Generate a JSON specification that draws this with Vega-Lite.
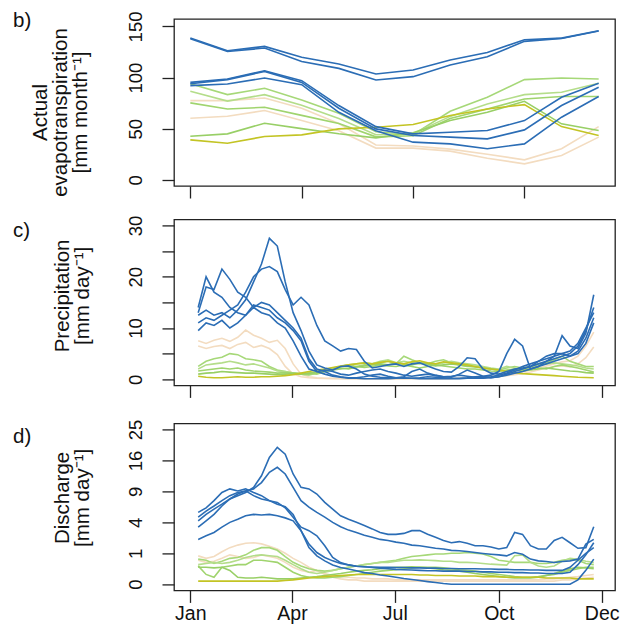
{
"$schema": "https://vega.github.io/schema/vega-lite/v6.json",
"padding": {"left": 12, "top": 10, "right": 12, "bottom": 4},
"background": "white",
"config": {
  "font": "Liberation Sans",
  "view": {"stroke": "#222", "strokeWidth": 1.3},
  "axis": {"grid": false, "domain": false, "tickSize": 12, "tickColor": "#222", "tickWidth": 1.3, "labelFontSize": 18.5, "labelColor": "#111", "titleFontSize": 20.5, "titleFontWeight": "normal", "titleColor": "#111", "titleLineHeight": 20},
  "title": {"fontSize": 20.5, "fontWeight": "normal", "anchor": "start", "frame": "group", "color": "#111", "baseline": "alphabetic", "offset": 0}
},
"datasets": {
"et": [
{"m":1,"s01":77.4,"s02":60.2,"s03":94,"s04":86.6,"s05":75.2,"s06":42.6,"s07":39,"s08":138.6,"s09":138,"s10":95.3,"s11":94,"s12":92.1},
{"m":2,"s01":77.4,"s02":62.2,"s03":83.3,"s04":77,"s05":69.3,"s06":44.9,"s07":35.8,"s08":126.3,"s09":125.5,"s10":98.6,"s11":98,"s12":93.7},
{"m":3,"s01":80,"s02":67.7,"s03":89.5,"s04":83.3,"s05":70.9,"s06":55.3,"s07":42.3,"s08":130.5,"s09":128.9,"s10":106.7,"s11":106,"s12":99.6},
{"m":4,"s01":70,"s02":58,"s03":78,"s04":73,"s05":63,"s06":50,"s07":43.9,"s08":119.8,"s09":115.8,"s10":97,"s11":95.3,"s12":93},
{"m":5,"s01":55,"s02":48,"s03":65,"s04":60,"s05":55,"s06":45,"s07":49.8,"s08":113.2,"s09":109,"s10":72.6,"s11":70,"s12":66},
{"m":6,"s01":34,"s02":31,"s03":47,"s04":44,"s05":42,"s06":41,"s07":51.4,"s08":103.5,"s09":97.6,"s10":52,"s11":49.8,"s12":48},
{"m":7,"s01":33,"s02":31,"s03":44,"s04":45,"s05":43,"s06":46,"s07":54,"s08":107.4,"s09":100.9,"s10":44.9,"s11":43.3,"s12":36.8},
{"m":8,"s01":30,"s02":28,"s03":67,"s04":62,"s05":60,"s06":58,"s07":62.8,"s08":117.1,"s09":112.3,"s10":46.5,"s11":41.7,"s12":35.1},
{"m":9,"s01":25,"s02":21,"s03":80.7,"s04":74.2,"s05":69.3,"s06":66,"s07":69.3,"s08":124.6,"s09":120.4,"s10":48.2,"s11":40,"s12":30.3},
{"m":10,"s01":19.5,"s02":15.6,"s03":98,"s04":83.3,"s05":79,"s06":76.8,"s07":73.5,"s08":137,"s09":135.4,"s10":57.9,"s11":48.8,"s12":35.1},
{"m":11,"s01":30.3,"s02":23.8,"s03":99.6,"s04":85.6,"s05":81.4,"s06":54.7,"s07":52,"s08":138.6,"s09":138.3,"s10":80.7,"s11":72.6,"s12":61.2},
{"m":12,"s01":52,"s02":41.7,"s03":98.6,"s04":94.4,"s05":81.4,"s06":48.2,"s07":43.3,"s08":145.8,"s09":145.5,"s10":94.4,"s11":90.5,"s12":81.4}
],
"pr": [
{"d":8,"s01":7.5,"s02":6.5,"s03":2.5,"s04":2.0,"s05":1.6,"s06":1.0,"s07":0.6,"s08":12.5,"s09":11.0,"s10":13.0,"s11":14.0,"s12":9.5},
{"d":15,"s01":7.0,"s02":6.0,"s03":3.5,"s04":2.8,"s05":1.8,"s06":1.2,"s07":0.4,"s08":13.5,"s09":12.0,"s10":18.0,"s11":20.0,"s12":11.0},
{"d":22,"s01":7.6,"s02":6.4,"s03":4.0,"s04":3.0,"s05":2.0,"s06":1.3,"s07":0.3,"s08":12.5,"s09":11.5,"s10":17.5,"s11":17.0,"s12":10.5},
{"d":29,"s01":8.0,"s02":6.6,"s03":4.3,"s04":3.2,"s05":2.2,"s06":1.5,"s07":0.3,"s08":13.0,"s09":12.5,"s10":21.5,"s11":16.0,"s12":11.5},
{"d":36,"s01":7.4,"s02":6.0,"s03":5.0,"s04":3.5,"s05":2.0,"s06":1.4,"s07":0.4,"s08":12.0,"s09":13.5,"s10":19.5,"s11":14.0,"s12":10.0},
{"d":43,"s01":8.2,"s02":6.8,"s03":4.8,"s04":3.2,"s05":2.2,"s06":1.3,"s07":0.5,"s08":13.5,"s09":14.5,"s10":17.0,"s11":13.0,"s12":11.0},
{"d":50,"s01":9.6,"s02":7.2,"s03":4.0,"s04":2.8,"s05":1.8,"s06":1.2,"s07":0.4,"s08":15.5,"s09":17.0,"s10":16.0,"s11":12.5,"s12":12.5},
{"d":57,"s01":8.6,"s02":6.2,"s03":3.8,"s04":3.0,"s05":1.6,"s06":1.2,"s07":0.4,"s08":19.0,"s09":20.0,"s10":14.0,"s11":14.5,"s12":14.0},
{"d":64,"s01":8.0,"s02":6.6,"s03":3.5,"s04":2.6,"s05":1.5,"s06":1.1,"s07":0.5,"s08":22.5,"s09":21.5,"s10":15.0,"s11":14.0,"s12":13.0},
{"d":71,"s01":7.2,"s02":6.0,"s03":2.5,"s04":2.2,"s05":1.4,"s06":1.0,"s07":0.5,"s08":27.5,"s09":22.0,"s10":14.5,"s11":13.5,"s12":12.5},
{"d":78,"s01":7.6,"s02":4.8,"s03":1.8,"s04":1.6,"s05":1.2,"s06":0.9,"s07":0.6,"s08":26.0,"s09":21.0,"s10":13.0,"s11":12.0,"s12":11.0},
{"d":85,"s01":6.0,"s02":2.5,"s03":1.5,"s04":1.5,"s05":1.3,"s06":1.0,"s07":0.7,"s08":19.0,"s09":17.5,"s10":11.5,"s11":11.0,"s12":10.0},
{"d":92,"s01":3.0,"s02":1.0,"s03":1.2,"s04":1.2,"s05":1.2,"s06":1.1,"s07":0.9,"s08":13.0,"s09":14.5,"s10":10.0,"s11":9.5,"s12":7.5},
{"d":99,"s01":1.0,"s02":0.5,"s03":1.0,"s04":1.0,"s05":1.1,"s06":1.0,"s07":1.2,"s08":9.5,"s09":16.0,"s10":8.0,"s11":7.5,"s12":4.5},
{"d":106,"s01":0.5,"s02":0.3,"s03":1.2,"s04":0.8,"s05":1.0,"s06":1.2,"s07":1.5,"s08":5.5,"s09":14.5,"s10":4.0,"s11":3.5,"s12":2.0},
{"d":113,"s01":0.3,"s02":0.2,"s03":1.0,"s04":1.2,"s05":1.2,"s06":1.4,"s07":1.8,"s08":2.8,"s09":10.5,"s10":2.0,"s11":1.5,"s12":1.5},
{"d":120,"s01":0.2,"s02":0.15,"s03":1.5,"s04":1.8,"s05":1.5,"s06":1.6,"s07":2.0,"s08":2.2,"s09":7.5,"s10":1.5,"s11":1.8,"s12":1.0},
{"d":127,"s01":0.2,"s02":0.1,"s03":2.0,"s04":2.2,"s05":1.8,"s06":2.0,"s07":2.3,"s08":1.8,"s09":6.5,"s10":0.8,"s11":1.5,"s12":0.6},
{"d":134,"s01":0.15,"s02":0.1,"s03":2.5,"s04":2.5,"s05":2.0,"s06":2.2,"s07":2.6,"s08":2.5,"s09":5.5,"s10":0.5,"s11":1.0,"s12":0.4},
{"d":141,"s01":0.1,"s02":0.1,"s03":2.8,"s04":2.8,"s05":2.2,"s06":2.0,"s07":2.8,"s08":2.6,"s09":6.0,"s10":0.3,"s11":0.8,"s12":0.2},
{"d":148,"s01":0.1,"s02":0.1,"s03":2.5,"s04":3.0,"s05":2.5,"s06":2.4,"s07":3.0,"s08":2.0,"s09":5.8,"s10":0.3,"s11":1.2,"s12":0.2},
{"d":155,"s01":0.1,"s02":0.1,"s03":2.8,"s04":3.2,"s05":2.3,"s06":2.6,"s07":3.2,"s08":1.0,"s09":3.5,"s10":0.5,"s11":1.5,"s12":0.1},
{"d":162,"s01":0.15,"s02":0.1,"s03":3.0,"s04":3.0,"s05":2.5,"s06":2.8,"s07":3.0,"s08":0.6,"s09":2.2,"s10":0.8,"s11":1.8,"s12":0.1},
{"d":169,"s01":0.1,"s02":0.1,"s03":3.2,"s04":3.5,"s05":2.8,"s06":3.0,"s07":3.3,"s08":0.4,"s09":2.5,"s10":1.0,"s11":2.0,"s12":0.1},
{"d":176,"s01":0.1,"s02":0.1,"s03":3.5,"s04":3.8,"s05":2.6,"s06":2.8,"s07":3.5,"s08":0.3,"s09":2.8,"s10":0.6,"s11":1.5,"s12":0.1},
{"d":183,"s01":0.1,"s02":0.1,"s03":3.0,"s04":3.2,"s05":2.5,"s06":3.2,"s07":3.2,"s08":0.3,"s09":3.0,"s10":0.3,"s11":1.2,"s12":0.2},
{"d":190,"s01":0.1,"s02":0.1,"s03":4.5,"s04":3.5,"s05":2.8,"s06":3.0,"s07":3.0,"s08":0.5,"s09":2.5,"s10":0.2,"s11":0.8,"s12":0.3},
{"d":197,"s01":0.15,"s02":0.1,"s03":3.8,"s04":3.2,"s05":2.5,"s06":2.8,"s07":3.4,"s08":1.5,"s09":3.0,"s10":0.2,"s11":0.6,"s12":0.2},
{"d":204,"s01":0.2,"s02":0.1,"s03":3.2,"s04":3.0,"s05":2.2,"s06":3.2,"s07":3.6,"s08":2.0,"s09":3.2,"s10":0.3,"s11":0.8,"s12":0.1},
{"d":211,"s01":0.1,"s02":0.1,"s03":3.0,"s04":3.2,"s05":2.5,"s06":3.0,"s07":3.2,"s08":1.2,"s09":2.6,"s10":0.5,"s11":1.0,"s12":0.1},
{"d":218,"s01":0.1,"s02":0.1,"s03":3.5,"s04":2.8,"s05":2.8,"s06":2.6,"s07":3.0,"s08":0.8,"s09":2.0,"s10":0.4,"s11":0.7,"s12":0.1},
{"d":225,"s01":0.1,"s02":0.1,"s03":3.8,"s04":3.2,"s05":2.6,"s06":2.8,"s07":3.4,"s08":0.5,"s09":1.5,"s10":0.3,"s11":0.5,"s12":0.1},
{"d":232,"s01":0.15,"s02":0.1,"s03":3.2,"s04":3.5,"s05":2.4,"s06":3.0,"s07":3.2,"s08":0.4,"s09":1.4,"s10":0.2,"s11":0.6,"s12":0.1},
{"d":239,"s01":0.2,"s02":0.15,"s03":2.8,"s04":3.2,"s05":2.2,"s06":2.8,"s07":3.0,"s08":1.0,"s09":2.5,"s10":0.2,"s11":0.8,"s12":0.1},
{"d":246,"s01":0.2,"s02":0.2,"s03":2.5,"s04":3.0,"s05":2.0,"s06":2.6,"s07":2.8,"s08":1.8,"s09":4.2,"s10":0.3,"s11":0.6,"s12":0.2},
{"d":253,"s01":0.3,"s02":0.2,"s03":2.5,"s04":2.8,"s05":2.0,"s06":2.4,"s07":2.5,"s08":1.2,"s09":4.0,"s10":0.5,"s11":0.4,"s12":0.2},
{"d":260,"s01":0.4,"s02":0.3,"s03":2.2,"s04":2.5,"s05":1.8,"s06":2.2,"s07":2.2,"s08":0.6,"s09":2.0,"s10":0.6,"s11":0.3,"s12":0.2},
{"d":267,"s01":0.5,"s02":0.4,"s03":2.0,"s04":2.2,"s05":1.6,"s06":2.0,"s07":2.0,"s08":0.3,"s09":1.2,"s10":0.8,"s11":0.5,"s12":0.3},
{"d":274,"s01":0.8,"s02":0.5,"s03":1.8,"s04":2.0,"s05":1.5,"s06":1.8,"s07":1.8,"s08":0.5,"s09":1.0,"s10":1.5,"s11":0.8,"s12":0.5},
{"d":281,"s01":1.0,"s02":0.7,"s03":2.2,"s04":2.5,"s05":1.8,"s06":1.6,"s07":1.5,"s08":1.0,"s09":1.5,"s10":5.0,"s11":1.2,"s12":0.8},
{"d":288,"s01":1.2,"s02":0.9,"s03":2.5,"s04":2.2,"s05":2.0,"s06":1.8,"s07":1.3,"s08":1.5,"s09":2.0,"s10":7.8,"s11":1.8,"s12":1.2},
{"d":295,"s01":1.5,"s02":1.1,"s03":2.2,"s04":2.0,"s05":1.8,"s06":1.6,"s07":1.1,"s08":2.0,"s09":2.2,"s10":6.5,"s11":2.5,"s12":1.5},
{"d":302,"s01":1.8,"s02":1.4,"s03":2.5,"s04":2.2,"s05":2.0,"s06":1.8,"s07":1.0,"s08":2.5,"s09":2.5,"s10":2.0,"s11":3.0,"s12":2.0},
{"d":309,"s01":2.2,"s02":1.8,"s03":3.0,"s04":2.8,"s05":2.2,"s06":2.0,"s07":0.9,"s08":3.0,"s09":3.5,"s10":2.5,"s11":3.5,"s12":2.5},
{"d":316,"s01":2.6,"s02":2.2,"s03":3.2,"s04":3.0,"s05":2.0,"s06":2.2,"s07":0.8,"s08":3.5,"s09":4.5,"s10":3.5,"s11":4.0,"s12":3.0},
{"d":323,"s01":3.0,"s02":2.5,"s03":3.8,"s04":3.2,"s05":2.5,"s06":2.0,"s07":0.7,"s08":4.0,"s09":5.0,"s10":4.5,"s11":4.5,"s12":3.5},
{"d":330,"s01":3.4,"s02":2.6,"s03":4.5,"s04":3.0,"s05":2.8,"s06":1.8,"s07":0.6,"s08":4.5,"s09":5.0,"s10":8.5,"s11":5.0,"s12":4.0},
{"d":337,"s01":3.6,"s02":2.4,"s03":3.5,"s04":2.8,"s05":2.5,"s06":1.6,"s07":0.5,"s08":5.0,"s09":5.5,"s10":6.5,"s11":4.5,"s12":4.5},
{"d":344,"s01":4.5,"s02":3.0,"s03":3.0,"s04":2.6,"s05":2.2,"s06":1.5,"s07":0.4,"s08":6.5,"s09":7.0,"s10":6.0,"s11":5.5,"s12":5.0},
{"d":351,"s01":6.5,"s02":4.2,"s03":2.5,"s04":2.2,"s05":1.8,"s06":1.3,"s07":0.35,"s08":9.5,"s09":10.0,"s10":9.0,"s11":8.0,"s12":7.0},
{"d":358,"s01":9.2,"s02":6.3,"s03":2.5,"s04":2.0,"s05":1.4,"s06":1.2,"s07":0.3,"s08":14.0,"s09":13.0,"s10":16.5,"s11":12.0,"s12":11.0}
],
"q": [
{"d":8,"s01":0.84,"s02":0.6,"s03":0.66,"s04":0.4,"s05":0.35,"s06":0.3,"s07":0.01,"s08":4.2,"s09":4.7,"s10":5.4,"s11":3.4,"s12":2.1},
{"d":15,"s01":0.7,"s02":0.5,"s03":0.6,"s04":0.45,"s05":0.1,"s06":0.3,"s07":0.01,"s08":5.1,"s09":5.6,"s10":6.1,"s11":4.2,"s12":2.45},
{"d":22,"s01":0.8,"s02":0.55,"s03":0.45,"s04":0.5,"s05":0.05,"s06":0.28,"s07":0.01,"s08":5.9,"s09":6.4,"s10":7.3,"s11":5.1,"s12":2.8},
{"d":29,"s01":1.1,"s02":0.7,"s03":0.55,"s04":0.45,"s05":0.3,"s06":0.3,"s07":0.01,"s08":6.7,"s09":7.3,"s10":8.8,"s11":6.4,"s12":3.4},
{"d":36,"s01":1.4,"s02":0.9,"s03":0.7,"s04":0.5,"s05":0.35,"s06":0.2,"s07":0.01,"s08":7.6,"s09":8.2,"s10":9.5,"s11":7.6,"s12":4.0},
{"d":43,"s01":1.6,"s02":0.8,"s03":0.75,"s04":0.6,"s05":0.4,"s06":0.05,"s07":0.01,"s08":8.2,"s09":8.8,"s10":9.1,"s11":8.5,"s12":4.4},
{"d":50,"s01":1.75,"s02":0.7,"s03":0.9,"s04":0.75,"s05":0.4,"s06":0.04,"s07":0.01,"s08":8.8,"s09":9.1,"s10":9.5,"s11":9.1,"s12":4.9},
{"d":57,"s01":1.8,"s02":0.75,"s03":1.2,"s04":0.85,"s05":0.6,"s06":0.04,"s07":0.01,"s08":9.8,"s09":9.5,"s10":8.8,"s11":8.2,"s12":5.1},
{"d":64,"s01":1.7,"s02":0.9,"s03":1.4,"s04":0.9,"s05":0.6,"s06":0.05,"s07":0.01,"s08":12.3,"s09":10.8,"s10":8.2,"s11":7.6,"s12":5.0},
{"d":71,"s01":1.5,"s02":0.8,"s03":1.4,"s04":0.85,"s05":0.55,"s06":0.04,"s07":0.01,"s08":16.8,"s09":13.1,"s10":7.3,"s11":7.3,"s12":5.1},
{"d":78,"s01":1.3,"s02":0.7,"s03":1.2,"s04":0.8,"s05":0.5,"s06":0.03,"s07":0.01,"s08":19.6,"s09":14.3,"s10":6.7,"s11":7.0,"s12":4.9},
{"d":85,"s01":1.0,"s02":0.5,"s03":0.8,"s04":0.6,"s05":0.3,"s06":0.03,"s07":0.015,"s08":17.7,"s09":12.7,"s10":6.3,"s11":6.1,"s12":4.6},
{"d":92,"s01":0.7,"s02":0.3,"s03":0.5,"s04":0.4,"s05":0.15,"s06":0.03,"s07":0.02,"s08":12.7,"s09":9.8,"s10":5.1,"s11":4.7,"s12":4.2},
{"d":99,"s01":0.5,"s02":0.2,"s03":0.35,"s04":0.25,"s05":0.08,"s06":0.04,"s07":0.03,"s08":9.8,"s09":7.3,"s10":3.0,"s11":3.4,"s12":3.0},
{"d":106,"s01":0.3,"s02":0.15,"s03":0.25,"s04":0.15,"s05":0.05,"s06":0.05,"s07":0.04,"s08":9.5,"s09":6.2,"s10":1.4,"s11":3.0,"s12":1.68},
{"d":113,"s01":0.2,"s02":0.2,"s03":0.2,"s04":0.12,"s05":0.04,"s06":0.06,"s07":0.05,"s08":8.5,"s09":5.4,"s10":0.84,"s11":2.45,"s12":1.05},
{"d":120,"s01":0.12,"s02":0.1,"s03":0.18,"s04":0.15,"s05":0.04,"s06":0.08,"s07":0.06,"s08":7.0,"s09":4.7,"s10":0.57,"s11":1.55,"s12":0.75},
{"d":127,"s01":0.08,"s02":0.05,"s03":0.2,"s04":0.2,"s05":0.05,"s06":0.1,"s07":0.07,"s08":5.9,"s09":4.0,"s10":0.39,"s11":0.75,"s12":0.57},
{"d":134,"s01":0.06,"s02":0.03,"s03":0.25,"s04":0.25,"s05":0.06,"s06":0.12,"s07":0.08,"s08":4.9,"s09":3.45,"s10":0.29,"s11":0.49,"s12":0.45},
{"d":141,"s01":0.05,"s02":0.02,"s03":0.3,"s04":0.3,"s05":0.08,"s06":0.15,"s07":0.09,"s08":4.4,"s09":3.06,"s10":0.24,"s11":0.39,"s12":0.39},
{"d":148,"s01":0.04,"s02":0.02,"s03":0.35,"s04":0.35,"s05":0.1,"s06":0.18,"s07":0.1,"s08":4.0,"s09":2.8,"s10":0.19,"s11":0.34,"s12":0.34},
{"d":155,"s01":0.04,"s02":0.01,"s03":0.4,"s04":0.4,"s05":0.12,"s06":0.2,"s07":0.1,"s08":3.6,"s09":2.5,"s10":0.14,"s11":0.32,"s12":0.32},
{"d":162,"s01":0.03,"s02":0.01,"s03":0.45,"s04":0.45,"s05":0.15,"s06":0.22,"s07":0.1,"s08":3.2,"s09":2.3,"s10":0.12,"s11":0.29,"s12":0.31},
{"d":169,"s01":0.03,"s02":0.01,"s03":0.5,"s04":0.5,"s05":0.18,"s06":0.25,"s07":0.1,"s08":2.8,"s09":2.1,"s10":0.09,"s11":0.27,"s12":0.3},
{"d":176,"s01":0.03,"s02":0.01,"s03":0.55,"s04":0.5,"s05":0.2,"s06":0.28,"s07":0.1,"s08":2.6,"s09":2.0,"s10":0.07,"s11":0.25,"s12":0.3},
{"d":183,"s01":0.02,"s02":0.01,"s03":0.6,"s04":0.55,"s05":0.22,"s06":0.3,"s07":0.1,"s08":2.6,"s09":1.85,"s10":0.05,"s11":0.23,"s12":0.29},
{"d":190,"s01":0.02,"s02":0.01,"s03":0.7,"s04":0.6,"s05":0.25,"s06":0.3,"s07":0.1,"s08":2.7,"s09":1.75,"s10":0.034,"s11":0.22,"s12":0.29},
{"d":197,"s01":0.02,"s02":0.01,"s03":0.8,"s04":0.6,"s05":0.28,"s06":0.32,"s07":0.1,"s08":3.0,"s09":1.6,"s10":0.023,"s11":0.21,"s12":0.28},
{"d":204,"s01":0.02,"s02":0.01,"s03":0.85,"s04":0.62,"s05":0.3,"s06":0.3,"s07":0.09,"s08":3.0,"s09":1.55,"s10":0.014,"s11":0.2,"s12":0.28},
{"d":211,"s01":0.02,"s02":0.01,"s03":0.9,"s04":0.6,"s05":0.3,"s06":0.28,"s07":0.09,"s08":2.6,"s09":1.45,"s10":0.007,"s11":0.19,"s12":0.27},
{"d":218,"s01":0.02,"s02":0.01,"s03":0.95,"s04":0.58,"s05":0.3,"s06":0.25,"s07":0.08,"s08":2.3,"s09":1.35,"s10":0.003,"s11":0.19,"s12":0.27},
{"d":225,"s01":0.02,"s02":0.01,"s03":0.95,"s04":0.55,"s05":0.28,"s06":0.22,"s07":0.08,"s08":2.0,"s09":1.3,"s10":0.0005,"s11":0.18,"s12":0.26},
{"d":232,"s01":0.02,"s02":0.01,"s03":1.0,"s04":0.55,"s05":0.25,"s06":0.2,"s07":0.08,"s08":1.8,"s09":1.2,"s10":0,"s11":0.18,"s12":0.26},
{"d":239,"s01":0.02,"s02":0.01,"s03":1.0,"s04":0.5,"s05":0.22,"s06":0.18,"s07":0.07,"s08":1.9,"s09":1.17,"s10":0,"s11":0.18,"s12":0.25},
{"d":246,"s01":0.02,"s02":0.01,"s03":1.05,"s04":0.5,"s05":0.2,"s06":0.15,"s07":0.07,"s08":1.75,"s09":1.12,"s10":0,"s11":0.17,"s12":0.25},
{"d":253,"s01":0.02,"s02":0.01,"s03":1.0,"s04":0.48,"s05":0.18,"s06":0.12,"s07":0.07,"s08":1.55,"s09":1.05,"s10":0,"s11":0.17,"s12":0.25},
{"d":260,"s01":0.02,"s02":0.01,"s03":0.95,"s04":0.45,"s05":0.15,"s06":0.1,"s07":0.06,"s08":1.55,"s09":0.99,"s10":0,"s11":0.16,"s12":0.24},
{"d":267,"s01":0.02,"s02":0.01,"s03":0.8,"s04":0.42,"s05":0.12,"s06":0.08,"s07":0.06,"s08":1.45,"s09":0.94,"s10":0,"s11":0.16,"s12":0.24},
{"d":274,"s01":0.02,"s02":0.01,"s03":0.6,"s04":0.4,"s05":0.1,"s06":0.06,"s07":0.06,"s08":1.3,"s09":0.9,"s10":0,"s11":0.15,"s12":0.23},
{"d":281,"s01":0.02,"s02":0.01,"s03":0.55,"s04":0.38,"s05":0.08,"s06":0.05,"s07":0.05,"s08":1.4,"s09":0.84,"s10":0,"s11":0.15,"s12":0.23},
{"d":288,"s01":0.02,"s02":0.01,"s03":0.5,"s04":0.85,"s05":0.06,"s06":0.04,"s07":0.05,"s08":2.8,"s09":1.05,"s10":0,"s11":0.14,"s12":0.22},
{"d":295,"s01":0.02,"s02":0.01,"s03":0.5,"s04":0.9,"s05":0.05,"s06":0.04,"s07":0.05,"s08":2.6,"s09":0.94,"s10":0,"s11":0.14,"s12":0.22},
{"d":302,"s01":0.02,"s02":0.01,"s03":0.5,"s04":0.5,"s05":0.05,"s06":0.04,"s07":0.05,"s08":1.55,"s09":0.66,"s10":0,"s11":0.13,"s12":0.21},
{"d":309,"s01":0.02,"s02":0.01,"s03":0.45,"s04":0.35,"s05":0.06,"s06":0.05,"s07":0.05,"s08":1.3,"s09":0.57,"s10":0,"s11":0.13,"s12":0.21},
{"d":316,"s01":0.03,"s02":0.01,"s03":0.45,"s04":0.3,"s05":0.08,"s06":0.08,"s07":0.04,"s08":1.3,"s09":0.54,"s10":0,"s11":0.12,"s12":0.2},
{"d":323,"s01":0.03,"s02":0.01,"s03":0.5,"s04":0.35,"s05":0.1,"s06":0.12,"s07":0.04,"s08":2.0,"s09":0.49,"s10":0,"s11":0.12,"s12":0.2},
{"d":330,"s01":0.04,"s02":0.02,"s03":0.6,"s04":0.55,"s05":0.15,"s06":0.18,"s07":0.04,"s08":2.3,"s09":0.54,"s10":0,"s11":0.12,"s12":0.2},
{"d":337,"s01":0.05,"s02":0.02,"s03":0.65,"s04":0.7,"s05":0.2,"s06":0.25,"s07":0.04,"s08":1.8,"s09":0.57,"s10":0,"s11":0.15,"s12":0.3},
{"d":344,"s01":0.06,"s02":0.03,"s03":0.6,"s04":0.65,"s05":0.25,"s06":0.3,"s07":0.03,"s08":1.35,"s09":0.66,"s10":0.02,"s11":0.4,"s12":0.6},
{"d":351,"s01":0.08,"s02":0.04,"s03":0.45,"s04":0.55,"s05":0.3,"s06":0.28,"s07":0.03,"s08":1.4,"s09":1.68,"s10":0.2,"s11":0.9,"s12":1.0},
{"d":358,"s01":0.1,"s02":0.05,"s03":0.4,"s04":0.5,"s05":0.3,"s06":0.25,"s07":0.03,"s08":3.45,"s09":2.1,"s10":0.66,"s11":1.8,"s12":1.4}
]
},
"spacing": 33.4,
"bounds": "flush",
"vconcat": [
{
  "width": 441, "height": 167,
  "title": {"text": "b)", "dx": -161, "dy": 24.6},
  "data": {"name": "et"},
  "transform": [{"fold": ["s01","s02","s03","s04","s05","s06","s07","s08","s09","s10","s11","s12"], "as": ["series", "v"]}],
  "mark": {"type": "line", "strokeWidth": 1.6},
  "encoding": {
    "x": {"field": "m", "type": "quantitative", "scale": {"domain": [0.56, 12.44], "nice": false, "zero": false}, "axis": {"values": [1,4,7,10], "labels": false, "title": null}},
    "y": {"field": "v", "type": "quantitative", "scale": {"domain": [-6.1, 157.3], "nice": false, "zero": false}, "axis": {"values": [0,50,100,150], "labelAngle": 270, "labelAlign": "center", "labelBaseline": "bottom", "labelPadding": 17, "title": ["Actual", "evapotranspiration", "[mm month⁻¹]"], "titlePadding": 36, "titleY": 93}},
    "color": {"field": "series", "type": "nominal", "legend": null, "scale": {"domain": ["s01","s02","s03","s04","s05","s06","s07","s08","s09","s10","s11","s12"], "range": ["#f3dcc0","#f3dcc0","#a6d878","#b4dd8a","#a0d46e","#98cf66","#c3c424","#2b6db5","#2b6db5","#2b6db5","#2b6db5","#2b6db5"]}}
  }
},
{
  "spacing": 38,
  "bounds": "flush",
  "vconcat": [
  {
    "width": 441, "height": 166,
    "title": {"text": "c)", "dx": -161, "dy": 30},
    "data": {"name": "pr"},
    "transform": [{"fold": ["s01","s02","s03","s04","s05","s06","s07","s08","s09","s10","s11","s12"], "as": ["series", "v"]}],
    "mark": {"type": "line", "strokeWidth": 1.6},
    "encoding": {
      "x": {"field": "d", "type": "quantitative", "scale": {"domain": [-13.4, 376.8], "nice": false, "zero": false}, "axis": {"values": [1,91,182,274,365], "labels": false, "title": null}},
      "y": {"field": "v", "type": "quantitative", "scale": {"domain": [-1.2, 31.2], "nice": false, "zero": false}, "axis": {"values": [0,5,10,15,20,25,30], "labelExpr": "datum.value % 10 == 0 ? datum.label : ''", "labelAngle": 270, "labelAlign": "center", "labelBaseline": "bottom", "labelPadding": 17, "title": ["Precipitation", "[mm day⁻¹]"], "titlePadding": 34, "titleY": 76}},
      "color": {"field": "series", "type": "nominal", "legend": null, "scale": {"domain": ["s01","s02","s03","s04","s05","s06","s07","s08","s09","s10","s11","s12"], "range": ["#f3dcc0","#f3dcc0","#a6d878","#b4dd8a","#a0d46e","#98cf66","#c3c424","#2b6db5","#2b6db5","#2b6db5","#2b6db5","#2b6db5"]}}
    }
  },
  {
    "width": 441, "height": 167,
    "title": {"text": "d)", "dx": -161, "dy": 32},
    "data": {"name": "q"},
    "transform": [{"fold": ["s01","s02","s03","s04","s05","s06","s07","s08","s09","s10","s11","s12"], "as": ["series", "v"]}],
    "mark": {"type": "line", "strokeWidth": 1.6},
    "encoding": {
      "x": {"field": "d", "type": "quantitative", "scale": {"domain": [-13.4, 376.8], "nice": false, "zero": false}, "axis": {"values": [1,91,182,274,365], "labelExpr": "datum.value == 1 ? 'Jan' : datum.value == 91 ? 'Apr' : datum.value == 182 ? 'Jul' : datum.value == 274 ? 'Oct' : 'Dec'", "labelPadding": 2, "labelFontSize": 19.5, "title": null}},
      "y": {"field": "v", "type": "quantitative", "scale": {"type": "sqrt", "domain": [-0.04, 27.04], "nice": false, "zero": false}, "axis": {"values": [0,1,4,9,16,25], "labelAngle": 270, "labelAlign": "center", "labelBaseline": "bottom", "labelPadding": 17, "title": ["Discharge", "[mm day⁻¹]"], "titlePadding": 34, "titleY": 74}},
      "color": {"field": "series", "type": "nominal", "legend": null, "scale": {"domain": ["s01","s02","s03","s04","s05","s06","s07","s08","s09","s10","s11","s12"], "range": ["#f3dcc0","#f3dcc0","#a6d878","#b4dd8a","#a0d46e","#98cf66","#c3c424","#2b6db5","#2b6db5","#2b6db5","#2b6db5","#2b6db5"]}}
    }
  }
  ]
}
]
}
